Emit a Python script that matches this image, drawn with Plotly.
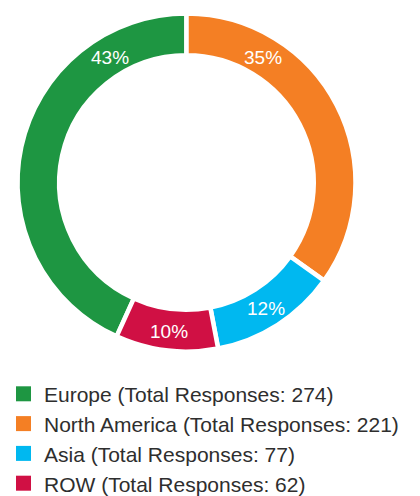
import math
import plotly.graph_objects as go

# Survey responses by region
regions = ["Europe", "North America", "Asia", "ROW"]
responses = [274, 221, 77, 62]
colors = ["#1E9642", "#F47F24", "#00B8F0", "#D01044"]

W, H = 420, 496
total = sum(responses)
shares = [v / total for v in responses]
legend_names = [f"{r} (Total Responses: {v})" for r, v in zip(regions, responses)]
FONT = "Liberation Sans, Arial, Helvetica, sans-serif"

# Ring geometry (pixels)
cx, cy, R = 186.5, 182.5, 169.0
line_w = 4.5
hole = 0.753

# Slices run clockwise; Europe ends at 12 o'clock
start_deg = -360 * shares[0]

fig = go.Figure(go.Pie(
    labels=legend_names,
    values=responses,
    sort=False,
    direction="clockwise",
    rotation=start_deg,
    hole=hole,
    marker=dict(colors=colors, line=dict(color="white", width=line_w)),
    textinfo="none",
    hoverinfo="label+percent",
    showlegend=False,
    domain=dict(x=[(cx - R) / W, (cx + R) / W], y=[1 - (cy + R) / H, 1 - (cy - R) / H]),
))

# Percentage labels sitting in the middle of the ring
r_mid = (R - line_w / 2 + R * hole + line_w / 2) / 2
annotations = []
angle = start_deg
for share in shares:
    span = 360 * share
    a0, a1 = angle, angle + span
    mid = (a0 + a1) / 2
    if span > 90:
        # wide slices keep their label near the 12 o'clock gap
        edge = a0 if abs(a0 % 360) < 1e-6 else a1
        mid = edge + 31 if edge == a0 else edge - 31
    rad = math.radians(mid)
    px = cx + r_mid * math.sin(rad)
    py = cy - r_mid * math.cos(rad) + 1.5
    annotations.append(dict(
        x=px / W, y=1 - py / H, xref="paper", yref="paper",
        text=f"{round(share * 100)}%", showarrow=False,
        font=dict(family=FONT, size=19, color="white"),
        xanchor="center", yanchor="middle",
    ))
    angle = a1

# Legend: coloured squares with region totals, one row per region
shapes = []
row0, row_step, sq = 393.8, 29.8, 15
sq_x0, text_x = 16, 43
for i, (name, col) in enumerate(zip(legend_names, colors)):
    yc = row0 + i * row_step
    shapes.append(dict(
        type="rect", xref="paper", yref="paper",
        x0=sq_x0 / W, x1=(sq_x0 + sq) / W,
        y0=1 - (yc + sq / 2) / H, y1=1 - (yc - sq / 2) / H,
        fillcolor=col, line=dict(width=0),
    ))
    annotations.append(dict(
        x=text_x / W, y=1 - (yc + 1) / H, xref="paper", yref="paper",
        text=name, showarrow=False,
        font=dict(family=FONT, size=21, color="#2e2e2e"),
        xanchor="left", yanchor="middle", xshift=-1,
    ))

fig.update_layout(
    width=W, height=H,
    margin=dict(l=0, r=0, t=0, b=0),
    paper_bgcolor="white",
    plot_bgcolor="white",
    annotations=annotations,
    shapes=shapes,
    showlegend=False,
)

fig.write_html("out.html")
